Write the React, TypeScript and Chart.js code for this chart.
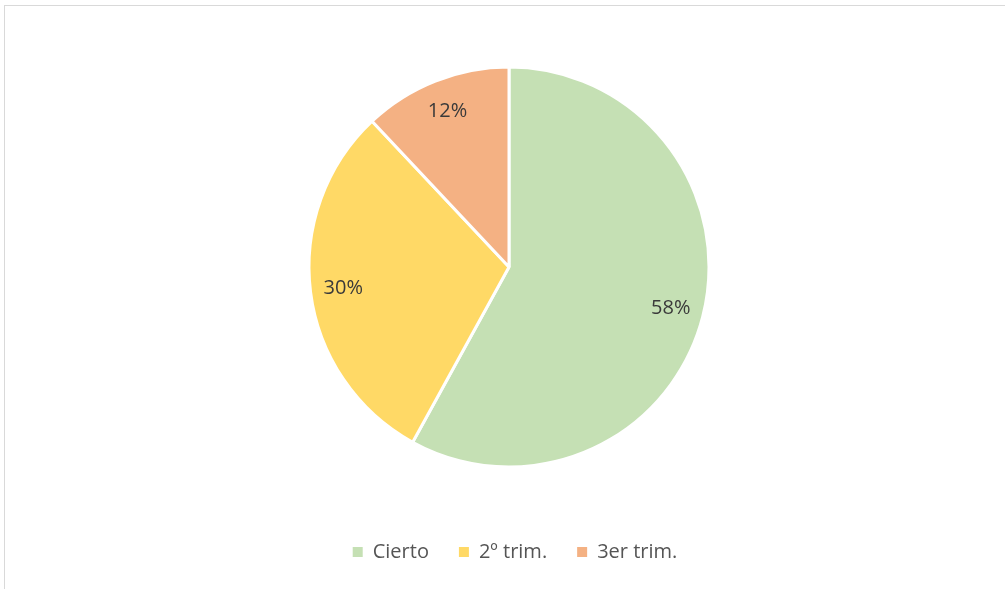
import React, { useEffect, useRef } from "react";
import { Chart, registerables } from "chart.js";

Chart.register(...registerables);

const categories = ["Cierto", "2º trim.", "3er trim."];
const values = [58, 30, 12];
const sliceColors = ["#C5E0B4", "#FFD966", "#F4B183"];

const FONT = "'Open Sans', 'Noto Sans', sans-serif";

const pctLabels = {
  id: "pctLabels",
  afterDatasetsDraw(chart: any) {
    const ctx = chart.ctx;
    const meta = chart.getDatasetMeta(0);
    ctx.save();
    ctx.font = `20px ${FONT}`;
    ctx.fillStyle = "#3a3a3a";
    ctx.textAlign = "center";
    ctx.textBaseline = "middle";
    meta.data.forEach((arc: any, i: number) => {
      const p = arc.getProps(["x", "y", "startAngle", "endAngle", "outerRadius"], true);
      const mid = (p.startAngle + p.endAngle) / 2;
      const r = p.outerRadius * 0.835;
      ctx.fillText(values[i] + "%", p.x + Math.cos(mid) * r, p.y + Math.sin(mid) * r);
    });
    ctx.restore();
  },
};

const legendShift = {
  id: "legendShift",
  afterLayout(chart: any) {
    const l = chart.legend;
    if (l) {
      l.left += 6;
      l.right += 6;
    }
  },
};

export default function App() {
  const ref = useRef<HTMLCanvasElement | null>(null);

  useEffect(() => {
    document.body.style.margin = "0";
    document.body.style.overflow = "hidden";
    const chart = new Chart(ref.current as HTMLCanvasElement, {
      type: "pie",
      data: {
        labels: categories,
        datasets: [
          {
            data: values,
            backgroundColor: sliceColors,
            borderColor: "#ffffff",
            borderWidth: 3,
            hoverOffset: 0,
          },
        ],
      },
      options: {
        animation: false,
        responsive: false,
        radius: 200,
        layout: { padding: { top: 22, left: 13, right: 0, bottom: 17 } },
        plugins: {
          tooltip: { enabled: false },
          legend: {
            position: "bottom",
            labels: {
              boxWidth: 10,
              boxHeight: 10,
              padding: 30,
              color: "#555555",
              font: { family: FONT, size: 20 },
              generateLabels: () =>
                categories.map((c, i) => ({
                  text: c,
                  fillStyle: sliceColors[i],
                  strokeStyle: sliceColors[i],
                  lineWidth: 0,
                  fontColor: "#555555",
                  hidden: false,
                  index: i,
                })),
            },
          },
        },
      } as any,
      plugins: [pctLabels, legendShift],
    });
    return () => chart.destroy();
  }, []);

  return (
    <div style={{ position: "relative", width: 1005, height: 589, overflow: "hidden", background: "#fff" }}>
      <div
        style={{
          position: "absolute",
          left: 4,
          top: 5,
          width: 1020,
          height: 600,
          border: "1px solid #d9d9d9",
          boxSizing: "border-box",
        }}
      />
      <canvas ref={ref} width={1005} height={589} style={{ position: "absolute", left: 0, top: 0 }} />
    </div>
  );
}
